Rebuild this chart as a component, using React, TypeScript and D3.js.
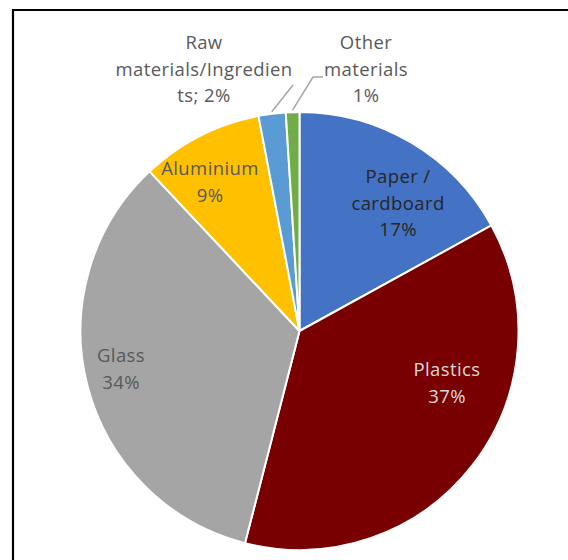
import React from "react";
import * as d3 from "d3";

const categories = ["Paper / cardboard", "Plastics", "Glass", "Aluminium", "Raw materials/Ingredients", "Other materials"];
const values = [17, 37, 34, 9, 2, 1];
const colors = ["#4472C4", "#780000", "#A5A5A5", "#FFC000", "#5B9BD5", "#70AD47"];
const labelLines = [
  ["Paper /", "cardboard", "17%"],
  ["Plastics", "37%"],
  ["Glass", "34%"],
  ["Aluminium", "9%"],
  ["Raw", "materials/Ingredien", "ts; 2%"],
  ["Other", "materials", "1%"],
];
const labelColors = ["#262626", "#D9D9D9", "#595959", "#595959", "#595959", "#595959"];

// layout (label anchor: center x, first baseline y)
const labelPos = [
  [398, 183],
  [447, 376],
  [121, 362],
  [210, 175],
  [204, 49],
  [366, 49],
];
// leader line end points (outside labels only)
const leaders: Record<number, [number, number][]> = {
  4: [[293, 85]],
  5: [[313, 77], [323, 77]],
};

const W = 568, H = 560;
const cx = 299.5, cy = 331, R = 219;
const lineH = 26.5;

export default function App() {
  const pie = d3.pie<number>().sort(null).value((d) => d)(values);
  const arc = d3.arc<d3.PieArcDatum<number>>().innerRadius(0).outerRadius(R);
  const edge = d3.arc<d3.PieArcDatum<number>>().innerRadius(R + 2).outerRadius(R + 2);
  return (
    <svg width={W} height={H} style={{ position: "absolute", left: 0, top: 0 }} fontFamily="'Open Sans', sans-serif">
      <rect x={0} y={0} width={W} height={H} fill="#fff" />
      <path d={`M13,${H} L13,10 L${W},10`} fill="none" stroke="#000" strokeWidth={2.2} />
      <g transform={`translate(${cx},${cy})`}>
        {pie.map((p, i) => (
          <path key={categories[i]} d={arc(p) || ""} fill={colors[i]} stroke="#fff" strokeWidth={2} strokeLinejoin="round" />
        ))}
      </g>
      {pie.map((p, i) => {
        const pts = leaders[i];
        if (!pts) return null;
        const c = edge.centroid(p);
        const all = [[cx + c[0], cy + c[1]], ...pts] as [number, number][];
        return (
          <path key={"l" + i} d={d3.line()(all) || ""} fill="none" stroke="#A6A6A6" strokeWidth={1.5} />
        );
      })}
      {labelLines.map((lines, i) => (
        <text key={"t" + i} x={labelPos[i][0]} y={labelPos[i][1]} textAnchor="middle" fontSize={18.5} letterSpacing={0.4} fill={labelColors[i]}>
          {lines.map((ln, j) => (
            <tspan key={j} x={labelPos[i][0]} y={labelPos[i][1] + j * lineH}>
              {ln}
            </tspan>
          ))}
        </text>
      ))}
    </svg>
  );
}
